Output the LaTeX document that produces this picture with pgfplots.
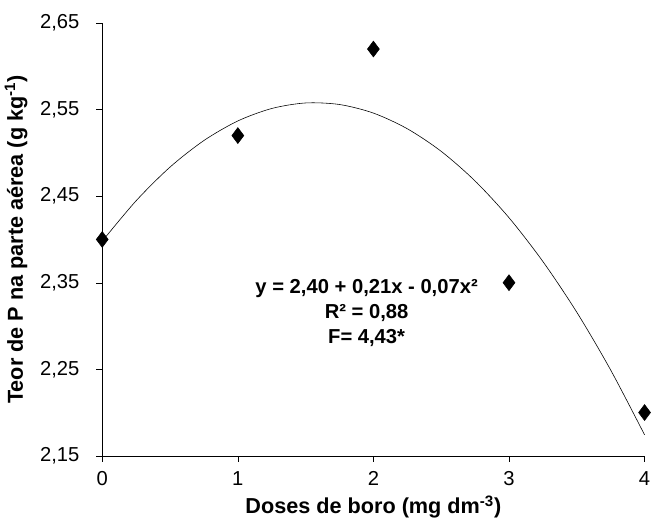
\documentclass[border=0pt]{standalone}
\usepackage{pgfplots}
\pgfplotsset{compat=1.18}
\usepackage{fontspec}
\setmainfont{Liberation Sans}
\begin{document}
\begin{tikzpicture}
\begin{axis}[
  scale only axis, width=376pt, height=300pt,
  xmin=0, xmax=4, ymin=2.15, ymax=2.65,
  xtick={0,1,2,3,4}, ytick={2.15,2.25,2.35,2.45,2.55,2.65},
  axis x line*=bottom, axis y line*=left,
  tick align=outside, tick style={black},
  /pgf/number format/assume math mode=true,
  /pgf/number format/use comma, /pgf/number format/fixed, /pgf/number format/fixed zerofill,
  yticklabel style={/pgf/number format/precision=2, xshift=-8pt},
  xticklabel style={/pgf/number format/precision=0, yshift=-3pt},
  ticklabel style={font=\fontsize{14}{16}\selectfont},
  xlabel={\textbf{Doses de boro (mg dm\textsuperscript{-3})}},
  ylabel={\textbf{Teor de P na parte aérea (g kg\textsuperscript{-1})}},
  ylabel style={yshift=2pt},
  label style={font=\fontsize{15}{17}\selectfont},
  clip=false,
]
\addplot[black, thin, smooth] coordinates {
(0,2.398)(0.25,2.4447)(0.5,2.4836)(0.75,2.5143)(1,2.5369)(1.25,2.5513)(1.5,2.5577)(1.75,2.5559)(2,2.5460)(2.25,2.5279)(2.5,2.5018)(2.75,2.4675)(3,2.4251)(3.25,2.3745)(3.5,2.3159)(3.75,2.2491)(4,2.1742)};
\addplot[only marks, mark=diamond*, mark size=5.5pt, black] coordinates {
(0,2.40)(1,2.52)(2,2.62)(3,2.35)(4,2.20)};
\node[align=center, font=\bfseries\fontsize{14}{17}\selectfont] at (axis cs:1.95,2.315)
{y = 2,40 + 0,21x - 0,07x²\\R² = 0,88\\F= 4,43*};
\end{axis}
\path (current axis.north) ++(0,16pt) coordinate (t);
\path (t) -- (t);
\end{tikzpicture}
\end{document}
